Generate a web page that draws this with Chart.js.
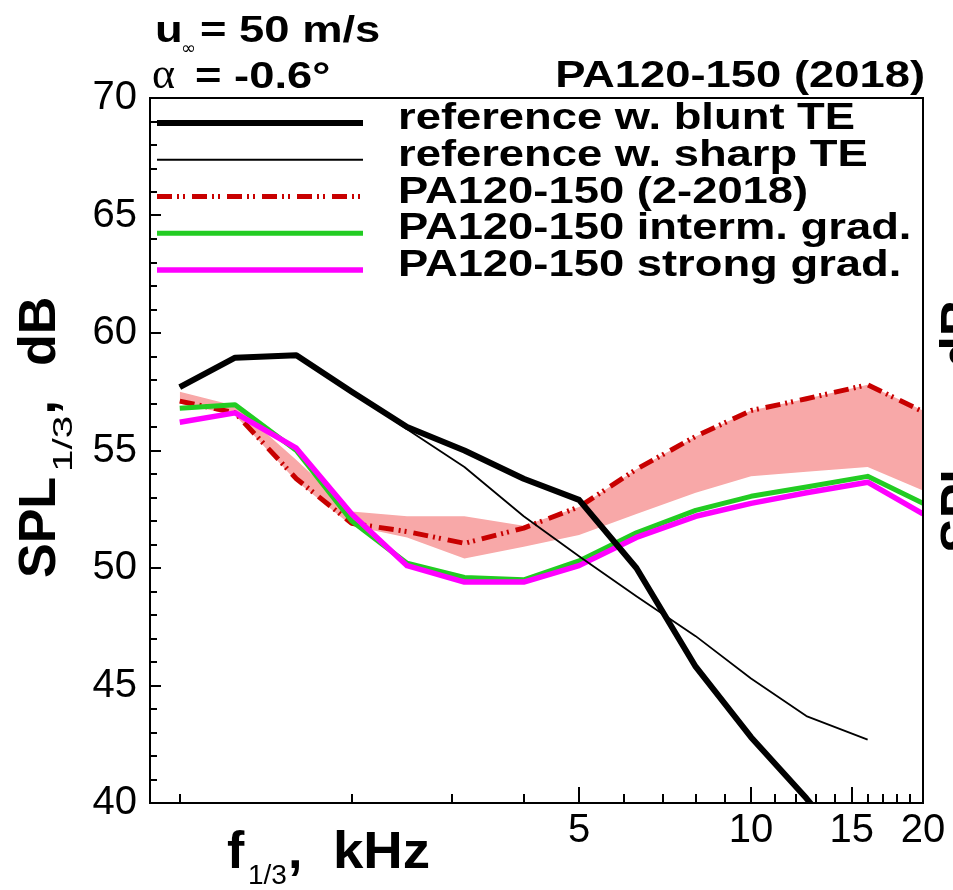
<!DOCTYPE html>
<html>

<head>
    <meta charset="UTF-8">
    <title>SPL PA120-150</title>
    <script src="https://cdn.jsdelivr.net/npm/chart.js@4.4.0/dist/chart.umd.min.js"></script>
    <style>
        html, body { margin: 0; padding: 0; background: #fff; }
        #wrap { width: 953px; height: 890px; position: relative; }
    </style>
</head>

<body>
    <div id="wrap"><canvas id="chart"></canvas></div>

    <script>
        // 1/3-octave band centre frequencies (kHz)
        var freqs = [1, 1.25, 1.6, 2, 2.5, 3.15, 4, 5, 6.3, 8, 10, 12.5, 16, 20];

        // SPL 1/3 (dB)
        var refBlunt    = [57.7, 58.95, 59.05, 57.5, 56.0, 55.0, 53.8, 52.9, 50.0, 45.8, 42.8, 40.2, 37.0, 34.5];
        var refSharp    = [57.7, 58.95, 59.05, 57.5, 55.9, 54.3, 52.2, 50.5, 48.8, 47.1, 45.3, 43.7, 42.7, null];
        var pa2018      = [57.1, 56.6, 53.8, 51.9, 51.55, 51.05, 51.7, 52.6, 54.2, 55.6, 56.7, 57.2, 57.8, 56.65];
        var pa2018Upper = [57.5, 56.9, 54.6, 52.4, 52.2, 52.2, 51.8, 52.6, 54.2, 55.6, 56.7, 57.2, 57.8, 56.7];
        var pa2018Lower = [57.0, 56.5, 53.7, 51.8, 51.3, 50.4, 50.9, 51.4, 52.3, 53.2, 53.9, 54.1, 54.3, 53.3];
        var intermGrad  = [56.8, 56.95, 55.0, 52.0, 50.2, 49.6, 49.5, 50.3, 51.5, 52.45, 53.05, 53.45, 53.9, 52.75];
        var strongGrad  = [56.2, 56.6, 55.1, 52.3, 50.1, 49.4, 49.4, 50.1, 51.3, 52.2, 52.75, 53.2, 53.65, 52.3];

        // axis ticks
        var xTickValues = [1, 2, 3, 4, 5, 6, 7, 8, 9, 10, 11, 12, 13, 14, 15, 16, 17, 18, 19, 20];
        var xTickLabels = { 5: '5', 10: '10', 15: '15', 20: '20' };
        var xMajor = [5, 10, 15];
        var yMin = 40, yMax = 70, yStep = 5;

        var BOLD = 'bold 36px "Liberation Sans", Arial, sans-serif';
        var TITLE = 'bold 52px "Liberation Sans", Arial, sans-serif';
        var SUB = '28px "Liberation Sans", Arial, sans-serif';
        var SX = 1.26;

        function pts(arr) {
            return freqs.map(function (f, i) { return { x: f, y: arr[i] }; });
        }

        function stretchText(ctx, text, x, y, font, sx, align) {
            ctx.save();
            ctx.font = font;
            ctx.textBaseline = 'alphabetic';
            ctx.textAlign = 'left';
            var w = ctx.measureText(text).width * sx;
            var x0 = align === 'right' ? x - w : x;
            ctx.translate(x0, y);
            ctx.scale(sx, 1);
            ctx.fillText(text, 0, 0);
            ctx.restore();
            return x0 + w;
        }

        // frame + inward tick marks
        var framePlugin = {
            id: 'frame',
            afterDatasetsDraw: function (chart) {
                var ctx = chart.ctx, a = chart.chartArea;
                var xs = chart.scales.x, ys = chart.scales.y;
                ctx.save();
                ctx.strokeStyle = '#000';
                ctx.lineWidth = 2;
                ctx.strokeRect(a.left, a.top, a.right - a.left, a.bottom - a.top);
                ctx.beginPath();
                for (var v = yMin; v <= yMax; v++) {
                    var py = Math.round(ys.getPixelForValue(v));
                    ctx.moveTo(a.left, py);
                    ctx.lineTo(a.left + (v % yStep === 0 ? 11 : 7), py);
                }
                xs.ticks.forEach(function (t) {
                    var px = Math.round(xs.getPixelForValue(t.value));
                    ctx.moveTo(px, a.bottom);
                    ctx.lineTo(px, a.bottom - (xMajor.indexOf(t.value) >= 0 ? 16 : 9));
                });
                ctx.stroke();
                ctx.restore();
            }
        };

        // legend in the top of the plot
        var legendPlugin = {
            id: 'inlineLegend',
            afterDatasetsDraw: function (chart) {
                var ctx = chart.ctx;
                var row = 0;
                chart.data.datasets.forEach(function (ds) {
                    if (ds.inLegend === false) return;
                    var y = 123 + row * 36.75;
                    ctx.save();
                    ctx.strokeStyle = ds.borderColor;
                    ctx.lineWidth = ds.borderWidth;
                    ctx.setLineDash(ds.borderDash || []);
                    ctx.beginPath();
                    ctx.moveTo(157, y);
                    ctx.lineTo(363, y);
                    ctx.stroke();
                    ctx.restore();
                    ctx.fillStyle = '#000';
                    stretchText(ctx, ds.label, 398, y + 6, BOLD, SX);
                    row++;
                });
            }
        };

        function drawYTitle(ctx, ox, oy, dbAt) {
            ctx.save();
            ctx.translate(ox, oy);
            ctx.rotate(-Math.PI / 2);
            stretchText(ctx, 'SPL', 0, 0, TITLE, 1);
            var end = stretchText(ctx, '1/3', 106, 17, SUB, 1.45);
            stretchText(ctx, ',', end + 1, 0, TITLE, 1);
            stretchText(ctx, 'dB', dbAt, 0, TITLE, 1);
            ctx.restore();
        }

        var textPlugin = {
            id: 'texts',
            afterDraw: function (chart) {
                var ctx = chart.ctx;
                ctx.save();
                ctx.fillStyle = '#000';
                stretchText(ctx, 'u', 155, 42, BOLD, SX);
                stretchText(ctx, '\u221e', 181, 54, '18px "DejaVu Sans", sans-serif', 1);
                stretchText(ctx, '= 50 m/s', 200, 42, BOLD, SX);
                stretchText(ctx, '\u03b1', 152, 88, '44px "Liberation Serif", serif', 1);
                stretchText(ctx, '= -0.6\u00b0', 195, 88, BOLD, SX);
                stretchText(ctx, 'PA120-150 (2018)', 925, 87, BOLD, SX, 'right');

                // x axis title
                stretchText(ctx, 'f', 227, 868, TITLE, 1);
                var end = stretchText(ctx, '1/3', 248, 884, SUB, 1);
                stretchText(ctx, ',', end + 1, 868, TITLE, 1);
                stretchText(ctx, 'kHz', 333, 868, TITLE, 1.05);

                // y axis title, and the one of the next panel cut by the edge
                drawYTitle(ctx, 55, 578, 212);
                drawYTitle(ctx, 977, 553, 185);
                ctx.restore();
            }
        };

        var ctx = document.getElementById('chart').getContext('2d');
        var chart = new Chart(ctx, {
            type: 'line',
            data: {
                datasets: [
                    { label: 'reference w. blunt TE', data: pts(refBlunt), borderColor: '#000000', borderWidth: 6, order: 0 },
                    { label: 'reference w. sharp TE', data: pts(refSharp), borderColor: '#000000', borderWidth: 1.8, order: 1 },
                    { label: 'PA120-150 (2-2018)', data: pts(pa2018), borderColor: '#c80000', borderWidth: 5, borderDash: [15, 5, 2, 4, 2, 7], order: 4 },
                    { label: 'PA120-150 interm. grad.', data: pts(intermGrad), borderColor: '#22cc22', borderWidth: 5, order: 3 },
                    { label: 'PA120-150 strong grad.', data: pts(strongGrad), borderColor: '#ff00ff', borderWidth: 5.5, order: 2 },
                    { label: 'band upper', data: pts(pa2018Upper), borderColor: 'rgba(0,0,0,0)', borderWidth: 0, backgroundColor: '#f8a8a8', fill: '+1', order: 5, inLegend: false },
                    { label: 'band lower', data: pts(pa2018Lower), borderColor: 'rgba(0,0,0,0)', borderWidth: 0, fill: false, order: 6, inLegend: false }
                ]
            },
            options: {
                responsive: true,
                maintainAspectRatio: false,
                devicePixelRatio: 1,
                animation: false,
                events: [],
                layout: { padding: { top: 98, right: 30, left: 0, bottom: 0 } },
                elements: {
                    point: { radius: 0 },
                    line: { tension: 0, borderJoinStyle: 'round', borderCapStyle: 'butt' }
                },
                plugins: {
                    legend: { display: false },
                    tooltip: { enabled: false },
                    filler: { drawTime: 'beforeDatasetsDraw' }
                },
                scales: {
                    x: {
                        type: 'logarithmic',
                        min: 0.887,
                        max: 20,
                        grid: { display: false, drawTicks: false },
                        border: { display: false },
                        afterBuildTicks: function (scale) {
                            scale.ticks = xTickValues.map(function (v) { return { value: v }; });
                        },
                        afterFit: function (scale) { scale.height = 87; },
                        ticks: {
                            autoSkip: false,
                            maxRotation: 0,
                            padding: 4,
                            color: '#000',
                            font: { family: '"Liberation Sans", Arial, sans-serif', size: 40 },
                            callback: function (value) { return xTickLabels[value] || ''; }
                        }
                    },
                    y: {
                        min: yMin,
                        max: yMax,
                        grid: { display: false, drawTicks: false },
                        border: { display: false },
                        afterFit: function (scale) { scale.width = 150; },
                        ticks: {
                            stepSize: yStep,
                            padding: 13,
                            color: '#000',
                            font: { family: '"Liberation Sans", Arial, sans-serif', size: 40 }
                        }
                    }
                }
            },
            plugins: [framePlugin, legendPlugin, textPlugin]
        });
    </script>
</body>

</html>
